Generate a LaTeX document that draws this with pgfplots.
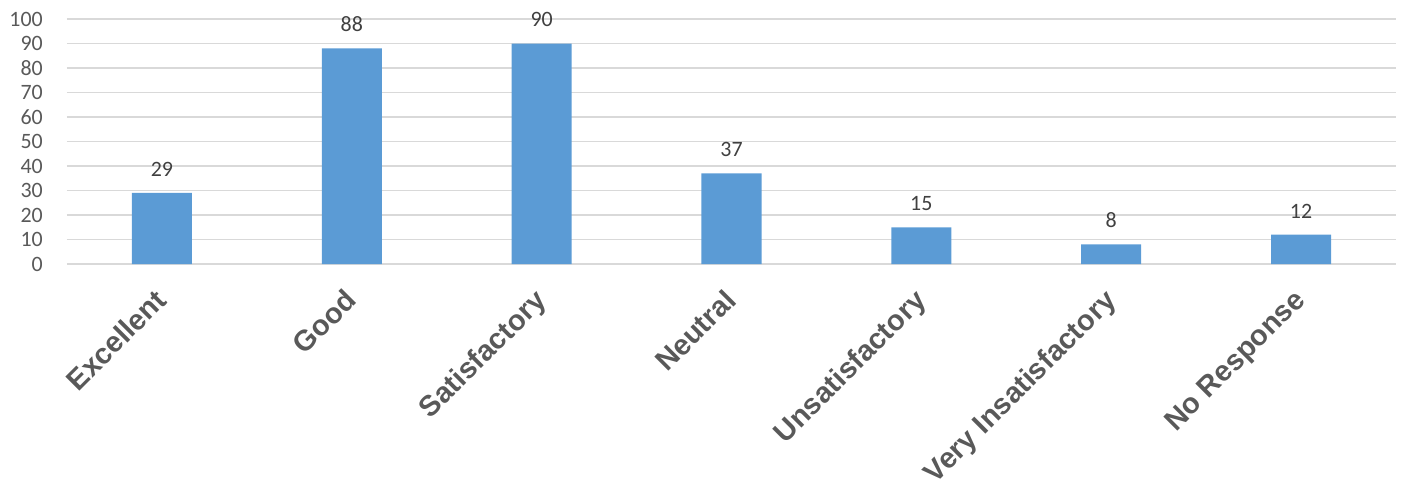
\documentclass[border=0pt]{standalone}
\usepackage{pgfplots}
\pgfplotsset{compat=1.18}
\usepackage{fontspec}
\setmainfont{Carlito}
\newfontfamily\catfont{Liberation Sans}
\definecolor{barblue}{HTML}{5B9BD5}
\definecolor{gridgray}{HTML}{D9D9D9}
\definecolor{ticktext}{HTML}{595959}
\definecolor{valtext}{HTML}{404040}
\begin{document}
\begin{tikzpicture}[x=1bp,y=1bp]
\useasboundingbox (-67bp,-227bp) rectangle (1335bp,264bp);
\begin{axis}[
  at={(0,0)}, anchor=south west,
  scale only axis,
  width=1329bp, height=245bp,
  xmin=-0.5, xmax=6.5,
  ymin=0, ymax=100,
  ytick={0,10,...,100},
  xtick={0,1,2,3,4,5,6},
  xticklabels={Excellent,Good,Satisfactory,Neutral,Unsatisfactory,Very Insatisfactory,No Response},
  axis line style={draw=none},
  major tick length=0pt,
  ymajorgrids,
  grid style={gridgray, line width=1.5bp},
  /pgf/number format/assume math mode=true,
  yticklabel style={font=\fontsize{22}{26}\selectfont, text=ticktext, inner sep=0pt, xshift=-24bp},
  xticklabel style={font=\catfont\bfseries\fontsize{29}{34}\selectfont, text=ticktext,
    rotate=45, anchor=north east, inner sep=0pt, xshift=-22.6bp, yshift=-10.5bp},
  nodes near coords,
  nodes near coords style={font=\fontsize{22}{26}\selectfont, text=valtext, anchor=south, yshift=13bp},
  point meta=explicit symbolic,
  clip=false,
]
\addplot[ybar, bar width=60bp, fill=barblue, draw=none] coordinates {
  (0,29) [29]
  (1,88) [88]
  (2,90) [90]
  (3,37) [37]
  (4,15) [15]
  (5,8)  [8]
  (6,12) [12]
};
\end{axis}
\end{tikzpicture}
\end{document}
